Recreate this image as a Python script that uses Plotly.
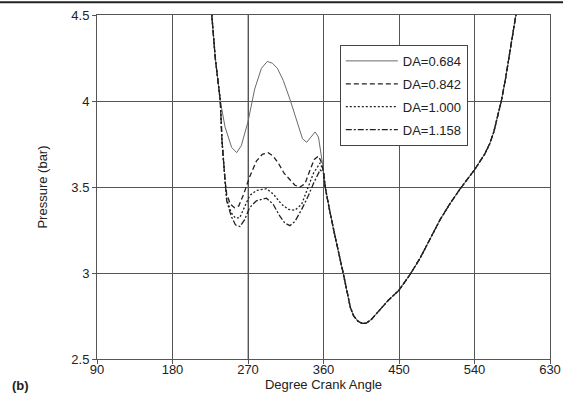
import plotly.graph_objects as go

# Crank angle (deg) and pressure (bar)
# shared descent into the valley (all cases)
x_head = [226, 231, 237]
p_head = [4.55, 4.25, 4.00]

# shared tail after TDC (all cases coincide)
x_tail = [362, 367, 372, 378, 384, 388, 392, 396, 401, 406, 411, 417, 423,
          430, 437, 450, 463, 475, 487, 499, 511, 523, 540, 552, 558, 563,
          568, 572, 577, 582, 586, 590]
p_tail = [3.50, 3.37, 3.25, 3.12, 2.99, 2.89, 2.80, 2.75, 2.72, 2.707, 2.708, 2.73, 2.765,
          2.80, 2.84, 2.90, 2.99, 3.085, 3.20, 3.31, 3.405, 3.49, 3.60, 3.69, 3.75, 3.82,
          3.92, 4.00, 4.13, 4.27, 4.39, 4.52]

x_684 = [242.6, 250.5, 256.5, 262, 270, 278, 286, 293, 299, 305, 312, 320,
         328, 335, 340, 345, 350, 354, 359]
p_684 = [3.85, 3.73, 3.70, 3.74, 3.88, 4.07, 4.19, 4.23, 4.22, 4.19, 4.12, 4.01,
         3.88, 3.78, 3.76, 3.79, 3.82, 3.79, 3.63]

x_842 = [239, 242.6, 244.6, 249, 254, 259, 265, 272, 280, 287, 294, 300, 306,
         313, 320, 326, 332, 338, 344, 349, 354, 357, 360]
p_842 = [3.77, 3.54, 3.46, 3.40, 3.38, 3.39, 3.46, 3.56, 3.65, 3.69, 3.70, 3.68, 3.64,
         3.58, 3.54, 3.51, 3.50, 3.52, 3.60, 3.66, 3.68, 3.65, 3.59]

x_1000 = [239, 242.6, 244.6, 250, 255, 260, 266, 272, 280, 292, 300, 310,
          318, 326, 334, 342, 348, 356, 360]
p_1000 = [3.77, 3.54, 3.43, 3.35, 3.32, 3.32, 3.38, 3.45, 3.48, 3.49, 3.46, 3.40,
          3.37, 3.365, 3.40, 3.50, 3.58, 3.64, 3.59]

x_1158 = [239, 242.6, 244.6, 250, 255, 260.4, 266, 272, 280, 292, 300, 308,
          314, 320, 326, 334, 342, 348, 356, 360]
p_1158 = [3.77, 3.54, 3.42, 3.33, 3.28, 3.27, 3.31, 3.38, 3.42, 3.435, 3.40, 3.33,
          3.29, 3.275, 3.30, 3.37, 3.45, 3.52, 3.60, 3.58]

series = [
    ("DA=0.684", x_684, p_684, "solid", "#6a6a6a", 1.0),
    ("DA=0.842", x_842, p_842, "5px,3px", "#222222", 1.3),
    ("DA=1.000", x_1000, p_1000, "2px,2px", "#222222", 1.3),
    ("DA=1.158", x_1158, p_1158, "6px,2px,2px,2px", "#222222", 1.3),
]

fig = go.Figure()
for name, xs, ps, dash, color, width in series:
    fig.add_trace(go.Scatter(
        x=x_head + xs + x_tail,
        y=p_head + ps + p_tail,
        mode="lines",
        name=name,
        legendgroup=name,
        line=dict(color=color, width=width, dash=dash),
    ))

font = "Liberation Sans, Arial, sans-serif"
fig.update_layout(
    width=563,
    height=419,
    margin=dict(l=97, r=13, t=15, b=60),
    paper_bgcolor="white",
    plot_bgcolor="white",
    font=dict(family=font, size=13, color="#222"),
    showlegend=True,
    legend=dict(
        x=0.536, y=0.913, xanchor="left", yanchor="top",
        bgcolor="white", bordercolor="#444", borderwidth=1,
        font=dict(size=13, color="#222"),
        itemwidth=52, tracegroupgap=3,
    ),
    xaxis=dict(
        range=[90, 630], tickvals=[90, 180, 270, 360, 450, 540, 630],
        showgrid=True, gridcolor="#555", gridwidth=1,
        showline=True, linecolor="#555", linewidth=1, mirror=True,
        ticks="outside", ticklen=4, tickcolor="#555", ticklabelstandoff=-6,
        zeroline=False, automargin=False,
        title=dict(text="Degree Crank Angle", standoff=2, font=dict(size=13)),
    ),
    yaxis=dict(
        range=[2.5, 4.5], tickvals=[2.5, 3, 3.5, 4, 4.5],
        ticktext=["2.5", "3", "3.5", "4", "4.5"],
        showgrid=True, gridcolor="#555", gridwidth=1,
        showline=True, linecolor="#555", linewidth=1, mirror=True,
        ticks="outside", ticklen=4, tickcolor="#555",
        zeroline=False, automargin=False,
        title=dict(text="Pressure (bar)", standoff=20, font=dict(size=13)),
    ),
    annotations=[dict(
        text="<b>(b)</b>", xref="paper", yref="paper",
        x=-0.192, y=-0.05, xanchor="left", yanchor="top",
        showarrow=False, font=dict(size=13, color="#222"),
    )],
    shapes=[
        dict(type="line", xref="paper", yref="paper",
             x0=-0.25, x1=1.05, y0=1.037, y1=1.037,
             line=dict(color="#222", width=2)),
        # the 270 gridline is printed lighter in the source
        dict(type="line", xref="x", yref="paper", layer="below",
             x0=270, x1=270, y0=0, y1=1,
             line=dict(color="#a0a0a0", width=1.5)),
    ],
)

# drop the browser's default 8px body margin so the figure sits at (0, 0)
fig.write_html("out.html", config={"displayModeBar": False},
               post_script="document.body.style.margin='0px';")
